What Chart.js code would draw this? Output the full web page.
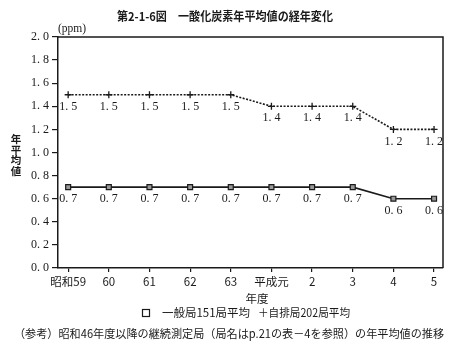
<!DOCTYPE html>
<html><head><meta charset="utf-8">
<script src="https://cdn.jsdelivr.net/npm/chart.js@4/dist/chart.umd.min.js"></script>
<style>html,body{margin:0;padding:0;background:#fff}canvas{display:block}</style>
</head><body>
<canvas id="c" width="460" height="349"></canvas>
<script>
const categories = ['昭和59','60','61','62','63','平成元','2','3','4','5'];
const jihaiValues = [1.5,1.5,1.5,1.5,1.5,1.4,1.4,1.4,1.2,1.2];
const ippanValues = [0.7,0.7,0.7,0.7,0.7,0.7,0.7,0.7,0.6,0.6];
const yTickValues = [0,0.2,0.4,0.6,0.8,1.0,1.2,1.4,1.6,1.8,2.0];
const yTickLabels = ['0. 0','0. 2','0. 4','0. 6','0. 8','1. 0','1. 2','1. 4','1. 6','1. 8','2. 0'];
const titleText = '第2-1-6図　一酸化炭素年平均値の経年変化';
const unitText = '(ppm)';
const yTitleChars = ['年','平','均','値'];
const xTitleText = '年度';
const legendIppan = '一般局151局平均';
const legendJihai = '＋自排局202局平均';
const noteText = '（参考）昭和46年度以降の継続測定局（局名はp.21の表－4を参照）の年平均値の推移';

const INK = '#1a1a1a';
const SERIF = "'Liberation Serif','DejaVu Serif',serif";
const CJK = "'Noto Sans CJK JP','Noto Sans CJK SC',sans-serif";

const fmt = v => v.toFixed(1).replace('.', '. ');

const extras = {
  id: 'extras',
  afterDraw(chart) {
    const ctx = chart.ctx, a = chart.chartArea;
    ctx.save();
    ctx.strokeStyle = INK; ctx.lineWidth = 1.5;
    ctx.beginPath();
    ctx.moveTo(a.left, a.top); ctx.lineTo(a.right, a.top); ctx.lineTo(a.right, a.bottom);
    ctx.stroke();
    ctx.fillStyle = INK;
    ctx.font = '12px ' + SERIF;
    ctx.textAlign = 'center'; ctx.textBaseline = 'middle';
    chart.data.datasets.forEach((ds, di) => {
      const meta = chart.getDatasetMeta(di);
      meta.data.forEach((pt, i) => {
        ctx.fillText(fmt(ds.data[i].y), pt.x, pt.y + 12);
      });
    });
    ctx.font = 'bold 12px ' + CJK;
    ctx.fillText(titleText, 225, 16, 216);
    ctx.font = '11.5px ' + SERIF;
    ctx.textAlign = 'left';
    ctx.fillText(unitText, 58, 29);
    ctx.textAlign = 'center';
    ctx.font = 'bold 10.5px ' + CJK;
    yTitleChars.forEach((ch, i) => ctx.fillText(ch, 16, 139 + i * 10.7));
    ctx.font = '11.5px ' + CJK;
    ctx.fillText(xTitleText, 257, 299);
    ctx.lineWidth = 1.2;
    ctx.strokeRect(142.5, 309.5, 7, 7);
    ctx.textAlign = 'left';
    ctx.fillText(legendIppan, 162, 313, 88);
    ctx.fillText(legendJihai, 258, 313, 92);
    ctx.font = '11.5px ' + CJK;
    ctx.fillText(noteText, 14, 334, 430);
    ctx.restore();
  }
};

new Chart(document.getElementById('c'), {
  type: 'line',
  data: {
    datasets: [
      {
        label: '自排局202局平均',
        data: jihaiValues.map((v, i) => ({x: i, y: v})),
        borderColor: INK, borderWidth: 1.6, borderDash: [2, 1.5],
        pointStyle: 'cross', pointRadius: 3.5, pointBorderWidth: 1.3,
        pointBorderColor: INK, tension: 0
      },
      {
        label: '一般局151局平均',
        data: ippanValues.map((v, i) => ({x: i, y: v})),
        borderColor: INK, borderWidth: 1.6,
        pointStyle: 'rect', pointRadius: 3.5, pointBorderWidth: 1.2,
        pointBorderColor: INK, pointBackgroundColor: '#999', tension: 0
      }
    ]
  },
  options: {
    responsive: false, devicePixelRatio: 1, animation: false,
    layout: {padding: {top: 37, right: 17, left: 0, bottom: 0}},
    plugins: {legend: {display: false}, tooltip: {enabled: false}, title: {display: false}},
    scales: {
      x: {
        type: 'linear', min: -0.25, max: 9.22,
        afterBuildTicks: s => { s.ticks = categories.map((c, i) => ({value: i})); },
        afterFit: s => { s.height = 81; },
        ticks: {
          callback: v => categories[v] ?? '',
          color: INK, font: {family: CJK, size: 11.5}, padding: 3, maxRotation: 0, autoSkip: false
        },
        grid: {drawOnChartArea: false, drawTicks: true, tickLength: 4, color: INK, lineWidth: 1.2},
        border: {display: true, color: INK, width: 1.5}
      },
      y: {
        min: 0, max: 2,
        afterBuildTicks: s => { s.ticks = yTickValues.map(v => ({value: v})); },
        afterFit: s => { s.width = 58; },
        ticks: {
          callback: (v, i) => yTickLabels[i],
          color: INK, font: {family: SERIF, size: 12}, padding: 3
        },
        grid: {drawOnChartArea: false, drawTicks: true, tickLength: 6, color: INK, lineWidth: 1.2},
        border: {display: true, color: INK, width: 1.5}
      }
    }
  },
  plugins: [extras]
});
</script>
</body></html>
